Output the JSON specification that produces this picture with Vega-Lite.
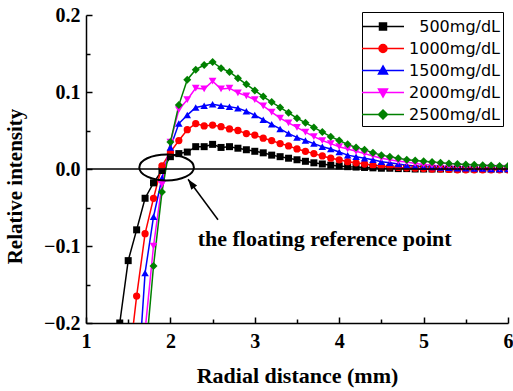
{
  "$schema": "https://vega.github.io/schema/vega-lite/v6.json",
  "width": 422,
  "height": 308,
  "autosize": {"type": "none"},
  "padding": {"left": 86, "top": 15, "right": 5, "bottom": 68},
  "background": "white",
  "config": {
    "view": {"stroke": null},
    "axis": {
      "grid": false,
      "domainColor": "black",
      "tickColor": "black",
      "labelColor": "black",
      "titleColor": "black",
      "labelFont": "Liberation Serif",
      "titleFont": "Liberation Serif",
      "labelFontWeight": "bold",
      "titleFontWeight": "bold",
      "labelFontSize": 20,
      "titleFontSize": 22,
      "domainWidth": 1.5,
      "tickWidth": 1.5
    }
  },
  "datasets": {
    "curves": [
      {"s":"500mg/dL","x":1.4,"y":-0.2},{"s":"500mg/dL","x":1.5,"y":-0.119},{"s":"500mg/dL","x":1.6,"y":-0.079},{"s":"500mg/dL","x":1.7,"y":-0.038},{"s":"500mg/dL","x":1.8,"y":-0.018},{"s":"500mg/dL","x":1.9,"y":-0.002},{"s":"500mg/dL","x":2.0,"y":0.016},{"s":"500mg/dL","x":2.1,"y":0.02},{"s":"500mg/dL","x":2.2,"y":0.022},{"s":"500mg/dL","x":2.3,"y":0.029},{"s":"500mg/dL","x":2.4,"y":0.029},{"s":"500mg/dL","x":2.5,"y":0.032},{"s":"500mg/dL","x":2.6,"y":0.028},{"s":"500mg/dL","x":2.7,"y":0.029},{"s":"500mg/dL","x":2.8,"y":0.027},{"s":"500mg/dL","x":2.9,"y":0.025},{"s":"500mg/dL","x":3.0,"y":0.023},{"s":"500mg/dL","x":3.1,"y":0.021},{"s":"500mg/dL","x":3.2,"y":0.018},{"s":"500mg/dL","x":3.3,"y":0.016},{"s":"500mg/dL","x":3.4,"y":0.014},{"s":"500mg/dL","x":3.5,"y":0.012},{"s":"500mg/dL","x":3.6,"y":0.01},{"s":"500mg/dL","x":3.7,"y":0.008},{"s":"500mg/dL","x":3.8,"y":0.0065},{"s":"500mg/dL","x":3.9,"y":0.005},{"s":"500mg/dL","x":4.0,"y":0.004},{"s":"500mg/dL","x":4.1,"y":0.003},{"s":"500mg/dL","x":4.2,"y":0.0025},{"s":"500mg/dL","x":4.3,"y":0.002},{"s":"500mg/dL","x":4.4,"y":0.0015},{"s":"500mg/dL","x":4.5,"y":0.001},{"s":"500mg/dL","x":4.6,"y":0.001},{"s":"500mg/dL","x":4.7,"y":0.0005},{"s":"500mg/dL","x":4.8,"y":0.0005},{"s":"500mg/dL","x":4.9,"y":0},{"s":"500mg/dL","x":5.0,"y":0},{"s":"500mg/dL","x":5.1,"y":0},{"s":"500mg/dL","x":5.2,"y":0},{"s":"500mg/dL","x":5.3,"y":0},{"s":"500mg/dL","x":5.4,"y":0},{"s":"500mg/dL","x":5.5,"y":0},{"s":"500mg/dL","x":5.6,"y":0},{"s":"500mg/dL","x":5.7,"y":0},{"s":"500mg/dL","x":5.8,"y":0},{"s":"500mg/dL","x":5.9,"y":0},{"s":"500mg/dL","x":6.0,"y":0},
      {"s":"1000mg/dL","x":1.5,"y":-0.26},{"s":"1000mg/dL","x":1.6,"y":-0.165},{"s":"1000mg/dL","x":1.7,"y":-0.084},{"s":"1000mg/dL","x":1.8,"y":-0.038},{"s":"1000mg/dL","x":1.9,"y":0.004},{"s":"1000mg/dL","x":2.0,"y":0.022},{"s":"1000mg/dL","x":2.1,"y":0.037},{"s":"1000mg/dL","x":2.2,"y":0.051},{"s":"1000mg/dL","x":2.3,"y":0.059},{"s":"1000mg/dL","x":2.4,"y":0.056},{"s":"1000mg/dL","x":2.5,"y":0.057},{"s":"1000mg/dL","x":2.6,"y":0.055},{"s":"1000mg/dL","x":2.7,"y":0.052},{"s":"1000mg/dL","x":2.8,"y":0.05},{"s":"1000mg/dL","x":2.9,"y":0.046},{"s":"1000mg/dL","x":3.0,"y":0.044},{"s":"1000mg/dL","x":3.1,"y":0.04},{"s":"1000mg/dL","x":3.2,"y":0.037},{"s":"1000mg/dL","x":3.3,"y":0.033},{"s":"1000mg/dL","x":3.4,"y":0.03},{"s":"1000mg/dL","x":3.5,"y":0.026},{"s":"1000mg/dL","x":3.6,"y":0.023},{"s":"1000mg/dL","x":3.7,"y":0.02},{"s":"1000mg/dL","x":3.8,"y":0.017},{"s":"1000mg/dL","x":3.9,"y":0.014},{"s":"1000mg/dL","x":4.0,"y":0.012},{"s":"1000mg/dL","x":4.1,"y":0.0095},{"s":"1000mg/dL","x":4.2,"y":0.008},{"s":"1000mg/dL","x":4.3,"y":0.0065},{"s":"1000mg/dL","x":4.4,"y":0.005},{"s":"1000mg/dL","x":4.5,"y":0.004},{"s":"1000mg/dL","x":4.6,"y":0.003},{"s":"1000mg/dL","x":4.7,"y":0.002},{"s":"1000mg/dL","x":4.8,"y":0.0015},{"s":"1000mg/dL","x":4.9,"y":0.001},{"s":"1000mg/dL","x":5.0,"y":0.0005},{"s":"1000mg/dL","x":5.1,"y":0},{"s":"1000mg/dL","x":5.2,"y":0},{"s":"1000mg/dL","x":5.3,"y":-0.0005},{"s":"1000mg/dL","x":5.4,"y":-0.001},{"s":"1000mg/dL","x":5.5,"y":-0.001},{"s":"1000mg/dL","x":5.6,"y":-0.001},{"s":"1000mg/dL","x":5.7,"y":-0.001},{"s":"1000mg/dL","x":5.8,"y":-0.001},{"s":"1000mg/dL","x":5.9,"y":-0.001},{"s":"1000mg/dL","x":6.0,"y":-0.001},
      {"s":"1500mg/dL","x":1.6,"y":-0.3},{"s":"1500mg/dL","x":1.7,"y":-0.135},{"s":"1500mg/dL","x":1.8,"y":-0.062},{"s":"1500mg/dL","x":1.9,"y":-0.012},{"s":"1500mg/dL","x":2.0,"y":0.028},{"s":"1500mg/dL","x":2.1,"y":0.059},{"s":"1500mg/dL","x":2.2,"y":0.07},{"s":"1500mg/dL","x":2.3,"y":0.08},{"s":"1500mg/dL","x":2.4,"y":0.082},{"s":"1500mg/dL","x":2.5,"y":0.084},{"s":"1500mg/dL","x":2.6,"y":0.082},{"s":"1500mg/dL","x":2.7,"y":0.081},{"s":"1500mg/dL","x":2.8,"y":0.079},{"s":"1500mg/dL","x":2.9,"y":0.075},{"s":"1500mg/dL","x":3.0,"y":0.07},{"s":"1500mg/dL","x":3.1,"y":0.064},{"s":"1500mg/dL","x":3.2,"y":0.058},{"s":"1500mg/dL","x":3.3,"y":0.052},{"s":"1500mg/dL","x":3.4,"y":0.046},{"s":"1500mg/dL","x":3.5,"y":0.041},{"s":"1500mg/dL","x":3.6,"y":0.037},{"s":"1500mg/dL","x":3.7,"y":0.033},{"s":"1500mg/dL","x":3.8,"y":0.029},{"s":"1500mg/dL","x":3.9,"y":0.026},{"s":"1500mg/dL","x":4.0,"y":0.022},{"s":"1500mg/dL","x":4.1,"y":0.018},{"s":"1500mg/dL","x":4.2,"y":0.016},{"s":"1500mg/dL","x":4.3,"y":0.014},{"s":"1500mg/dL","x":4.4,"y":0.012},{"s":"1500mg/dL","x":4.5,"y":0.0095},{"s":"1500mg/dL","x":4.6,"y":0.008},{"s":"1500mg/dL","x":4.7,"y":0.0065},{"s":"1500mg/dL","x":4.8,"y":0.005},{"s":"1500mg/dL","x":4.9,"y":0.004},{"s":"1500mg/dL","x":5.0,"y":0.003},{"s":"1500mg/dL","x":5.1,"y":0.0025},{"s":"1500mg/dL","x":5.2,"y":0.002},{"s":"1500mg/dL","x":5.3,"y":0.0015},{"s":"1500mg/dL","x":5.4,"y":0.001},{"s":"1500mg/dL","x":5.5,"y":0.001},{"s":"1500mg/dL","x":5.6,"y":0.0005},{"s":"1500mg/dL","x":5.7,"y":0.0005},{"s":"1500mg/dL","x":5.8,"y":0},{"s":"1500mg/dL","x":5.9,"y":0},{"s":"1500mg/dL","x":6.0,"y":0},
      {"s":"2000mg/dL","x":1.7,"y":-0.21},{"s":"2000mg/dL","x":1.8,"y":-0.1},{"s":"2000mg/dL","x":1.9,"y":-0.02},{"s":"2000mg/dL","x":2.0,"y":0.035},{"s":"2000mg/dL","x":2.1,"y":0.077},{"s":"2000mg/dL","x":2.2,"y":0.09},{"s":"2000mg/dL","x":2.3,"y":0.105},{"s":"2000mg/dL","x":2.4,"y":0.104},{"s":"2000mg/dL","x":2.5,"y":0.114},{"s":"2000mg/dL","x":2.6,"y":0.104},{"s":"2000mg/dL","x":2.7,"y":0.105},{"s":"2000mg/dL","x":2.8,"y":0.099},{"s":"2000mg/dL","x":2.9,"y":0.095},{"s":"2000mg/dL","x":3.0,"y":0.09},{"s":"2000mg/dL","x":3.1,"y":0.082},{"s":"2000mg/dL","x":3.2,"y":0.074},{"s":"2000mg/dL","x":3.3,"y":0.066},{"s":"2000mg/dL","x":3.4,"y":0.06},{"s":"2000mg/dL","x":3.5,"y":0.054},{"s":"2000mg/dL","x":3.6,"y":0.048},{"s":"2000mg/dL","x":3.7,"y":0.042},{"s":"2000mg/dL","x":3.8,"y":0.037},{"s":"2000mg/dL","x":3.9,"y":0.033},{"s":"2000mg/dL","x":4.0,"y":0.029},{"s":"2000mg/dL","x":4.1,"y":0.026},{"s":"2000mg/dL","x":4.2,"y":0.023},{"s":"2000mg/dL","x":4.3,"y":0.02},{"s":"2000mg/dL","x":4.4,"y":0.017},{"s":"2000mg/dL","x":4.5,"y":0.014},{"s":"2000mg/dL","x":4.6,"y":0.012},{"s":"2000mg/dL","x":4.7,"y":0.01},{"s":"2000mg/dL","x":4.8,"y":0.009},{"s":"2000mg/dL","x":4.9,"y":0.007},{"s":"2000mg/dL","x":5.0,"y":0.006},{"s":"2000mg/dL","x":5.1,"y":0.005},{"s":"2000mg/dL","x":5.2,"y":0.004},{"s":"2000mg/dL","x":5.3,"y":0.0035},{"s":"2000mg/dL","x":5.4,"y":0.003},{"s":"2000mg/dL","x":5.5,"y":0.0025},{"s":"2000mg/dL","x":5.6,"y":0.002},{"s":"2000mg/dL","x":5.7,"y":0.002},{"s":"2000mg/dL","x":5.8,"y":0.0015},{"s":"2000mg/dL","x":5.9,"y":0.001},{"s":"2000mg/dL","x":6.0,"y":0.001},
      {"s":"2500mg/dL","x":1.7,"y":-0.25},{"s":"2500mg/dL","x":1.8,"y":-0.126},{"s":"2500mg/dL","x":1.9,"y":-0.03},{"s":"2500mg/dL","x":2.0,"y":0.035},{"s":"2500mg/dL","x":2.1,"y":0.083},{"s":"2500mg/dL","x":2.2,"y":0.116},{"s":"2500mg/dL","x":2.3,"y":0.129},{"s":"2500mg/dL","x":2.4,"y":0.135},{"s":"2500mg/dL","x":2.5,"y":0.139},{"s":"2500mg/dL","x":2.6,"y":0.131},{"s":"2500mg/dL","x":2.7,"y":0.126},{"s":"2500mg/dL","x":2.8,"y":0.118},{"s":"2500mg/dL","x":2.9,"y":0.11},{"s":"2500mg/dL","x":3.0,"y":0.102},{"s":"2500mg/dL","x":3.1,"y":0.094},{"s":"2500mg/dL","x":3.2,"y":0.087},{"s":"2500mg/dL","x":3.3,"y":0.08},{"s":"2500mg/dL","x":3.4,"y":0.073},{"s":"2500mg/dL","x":3.5,"y":0.066},{"s":"2500mg/dL","x":3.6,"y":0.06},{"s":"2500mg/dL","x":3.7,"y":0.054},{"s":"2500mg/dL","x":3.8,"y":0.048},{"s":"2500mg/dL","x":3.9,"y":0.042},{"s":"2500mg/dL","x":4.0,"y":0.037},{"s":"2500mg/dL","x":4.1,"y":0.032},{"s":"2500mg/dL","x":4.2,"y":0.028},{"s":"2500mg/dL","x":4.3,"y":0.025},{"s":"2500mg/dL","x":4.4,"y":0.021},{"s":"2500mg/dL","x":4.5,"y":0.018},{"s":"2500mg/dL","x":4.6,"y":0.016},{"s":"2500mg/dL","x":4.7,"y":0.014},{"s":"2500mg/dL","x":4.8,"y":0.012},{"s":"2500mg/dL","x":4.9,"y":0.011},{"s":"2500mg/dL","x":5.0,"y":0.01},{"s":"2500mg/dL","x":5.1,"y":0.009},{"s":"2500mg/dL","x":5.2,"y":0.008},{"s":"2500mg/dL","x":5.3,"y":0.007},{"s":"2500mg/dL","x":5.4,"y":0.0065},{"s":"2500mg/dL","x":5.5,"y":0.006},{"s":"2500mg/dL","x":5.6,"y":0.0055},{"s":"2500mg/dL","x":5.7,"y":0.005},{"s":"2500mg/dL","x":5.8,"y":0.0045},{"s":"2500mg/dL","x":5.9,"y":0.004},{"s":"2500mg/dL","x":6.0,"y":0.004}
    ],
    "zero": [{"v": 0}],
    "ellipse": [{"x": 1.955, "y": 0.002}],
    "arrow": [{"x": 2.564, "y": -0.066, "x2": 2.209, "y2": -0.0134}],
    "label": [{"x": 3.828, "y": -0.0996, "text": "the floating reference point"}]
  },
  "layer": [
    {
      "data": {"name": "curves"},
      "mark": {"type": "line", "clip": true, "strokeWidth": 1.5},
      "encoding": {
        "x": {"field": "x", "type": "quantitative",
          "scale": {"domain": [1, 6], "nice": false, "zero": false},
          "axis": {"orient": "bottom", "values": [1, 2, 3, 4, 5, 6], "format": "d", "tickSize": -6, "labelPadding": 14, "labelFlush": false, "title": "Radial distance (mm)", "titlePadding": 14}},
        "y": {"field": "y", "type": "quantitative",
          "scale": {"domain": [-0.2, 0.2], "nice": false, "zero": false},
          "axis": {"orient": "left", "values": [-0.2, -0.1, 0, 0.1, 0.2], "format": ".1f", "tickSize": -6, "labelPadding": 12, "title": "Relative intensity", "titleFontSize": 21, "titlePadding": 18, "titleY": 171}},
        "color": {"field": "s", "type": "nominal",
          "scale": {"domain": ["500mg/dL", "1000mg/dL", "1500mg/dL", "2000mg/dL", "2500mg/dL"], "range": ["#000000", "#ff0000", "#0000ff", "#ff00ff", "#008000"]},
          "legend": null}
      }
    },
    {
      "data": {"name": "curves"},
      "mark": {"type": "point", "filled": true, "opacity": 1, "clip": true},
      "encoding": {
        "x": {"field": "x", "type": "quantitative",
          "axis": {"orient": "bottom", "values": [1.5, 2.5, 3.5, 4.5, 5.5], "labels": false, "domain": false, "tickSize": -4, "title": null}},
        "y": {"field": "y", "type": "quantitative",
          "axis": {"orient": "left", "values": [-0.15, -0.05, 0.05, 0.15], "labels": false, "domain": false, "tickSize": -4, "title": null}},
        "color": {"field": "s", "type": "nominal",
          "scale": {"domain": ["500mg/dL", "1000mg/dL", "1500mg/dL", "2000mg/dL", "2500mg/dL"], "range": ["#000000", "#ff0000", "#0000ff", "#ff00ff", "#008000"]},
          "legend": null},
        "shape": {"field": "s", "type": "nominal",
          "scale": {"domain": ["500mg/dL", "1000mg/dL", "1500mg/dL", "2000mg/dL", "2500mg/dL"], "range": ["square", "circle", "triangle-up", "triangle-down", "diamond"]},
          "legend": null},
        "size": {"field": "s", "type": "nominal",
          "scale": {"domain": ["500mg/dL", "1000mg/dL", "1500mg/dL", "2000mg/dL", "2500mg/dL"], "range": [49, 64, 81, 81, 72]},
          "legend": null}
      }
    },
    {
      "data": {"name": "zero"},
      "mark": {"type": "rule", "color": "black", "strokeWidth": 1.5},
      "encoding": {"y": {"field": "v", "type": "quantitative", "axis": null}}
    },
    {
      "data": {"name": "ellipse"},
      "mark": {"type": "point", "shape": "M-1,0A1,0.476 0 1,0 1,0A1,0.476 0 1,0 -1,0Z", "size": 2981, "filled": false, "color": "black", "strokeWidth": 2, "opacity": 1},
      "encoding": {
        "x": {"field": "x", "type": "quantitative", "axis": null},
        "y": {"field": "y", "type": "quantitative", "axis": null}
      }
    },
    {
      "data": {"name": "arrow"},
      "mark": {"type": "rule", "color": "black", "strokeWidth": 1.5},
      "encoding": {
        "x": {"field": "x", "type": "quantitative", "axis": null},
        "y": {"field": "y", "type": "quantitative", "axis": null},
        "x2": {"field": "x2"},
        "y2": {"field": "y2"}
      }
    },
    {
      "data": {"name": "arrow"},
      "mark": {"type": "point", "shape": "M0,0L-0.9,2.6L0.9,2.6Z", "size": 64, "filled": true, "color": "black", "opacity": 1, "angle": -36.4},
      "encoding": {
        "x": {"field": "x2", "type": "quantitative", "axis": null},
        "y": {"field": "y2", "type": "quantitative", "axis": null}
      }
    },
    {
      "data": {"name": "label"},
      "mark": {"type": "text", "font": "Liberation Serif", "fontWeight": "bold", "fontSize": 22, "align": "center", "baseline": "alphabetic", "color": "black"},
      "encoding": {
        "x": {"field": "x", "type": "quantitative", "axis": null},
        "y": {"field": "y", "type": "quantitative", "axis": null},
        "text": {"field": "text"}
      }
    },
    {
      "data": {"name": "curves"},
      "transform": [{"filter": "datum.x > 100"}],
      "mark": {"type": "point", "filled": true, "opacity": 1, "size": 441, "strokeWidth": 1.5},
      "encoding": {
        "color": {"field": "s", "type": "nominal",
          "scale": {"domain": ["500mg/dL", "1000mg/dL", "1500mg/dL", "2000mg/dL", "2500mg/dL"], "range": ["#000000", "#ff0000", "#0000ff", "#ff00ff", "#008000"]},
          "legend": {"title": null, "orient": "none", "legendX": 276, "legendY": -3, "padding": 3, "rowPadding": 2, "symbolSize": 441, "symbolStrokeWidth": 1.5, "symbolOpacity": 1, "labelOffset": 112, "labelAlign": "right", "labelFont": "DejaVu Sans", "labelFontSize": 16, "labelColor": "black", "strokeColor": "black", "fillColor": "white"}},
        "stroke": {"field": "s", "type": "nominal",
          "scale": {"domain": ["500mg/dL", "1000mg/dL", "1500mg/dL", "2000mg/dL", "2500mg/dL"], "range": ["#000000", "#ff0000", "#0000ff", "#ff00ff", "#008000"]},
          "legend": {"title": null, "orient": "none", "legendX": 276, "legendY": -3, "padding": 3, "rowPadding": 2, "symbolSize": 441, "symbolStrokeWidth": 1.5, "symbolOpacity": 1, "labelOffset": 112, "labelAlign": "right", "labelFont": "DejaVu Sans", "labelFontSize": 16, "labelColor": "black", "strokeColor": "black", "fillColor": "white"}},
        "shape": {"field": "s", "type": "nominal",
          "scale": {"domain": ["500mg/dL", "1000mg/dL", "1500mg/dL", "2000mg/dL", "2500mg/dL"], "range": [
            "M-1.381,0H2.619M0.286,-0.333H0.952V0.333H0.286Z",
            "M-1.381,0H2.619M0.238,0A0.381,0.381 0 1,0 1,0A0.381,0.381 0 1,0 0.238,0Z",
            "M-1.381,0H2.619M0.619,-0.43L1.048,0.33L0.19,0.33Z",
            "M-1.381,0H2.619M0.619,0.43L1.048,-0.33L0.19,-0.33Z",
            "M-1.381,0H2.619M0.619,-0.43L1.048,0L0.619,0.43L0.19,0Z"]},
          "legend": {"title": null, "orient": "none", "legendX": 276, "legendY": -3, "padding": 3, "rowPadding": 2, "symbolSize": 441, "symbolStrokeWidth": 1.5, "symbolOpacity": 1, "labelOffset": 112, "labelAlign": "right", "labelFont": "DejaVu Sans", "labelFontSize": 16, "labelColor": "black", "strokeColor": "black", "fillColor": "white"}}
      }
    }
  ],
  "resolve": {
    "axis": {"x": "independent", "y": "independent"},
    "scale": {"color": "independent", "shape": "independent", "stroke": "independent", "size": "independent"}
  }
}
